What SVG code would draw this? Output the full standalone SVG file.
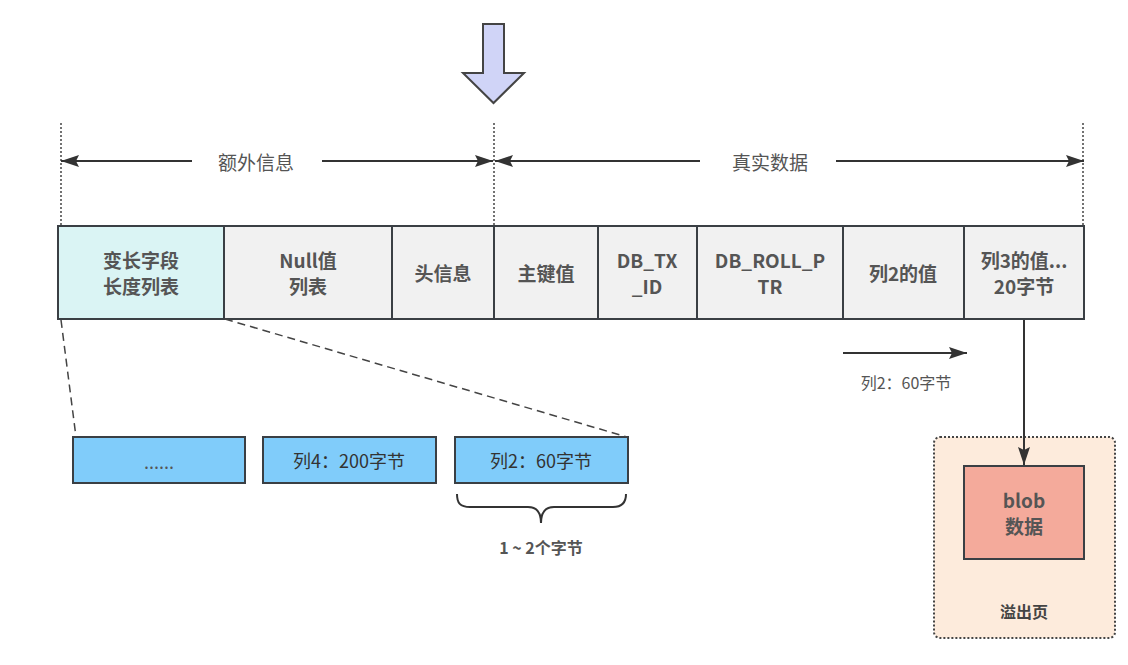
<svg xmlns="http://www.w3.org/2000/svg" width="1128" height="665" viewBox="0 0 1128 665">
<defs>
<style>
text{font-family:"Noto Sans CJK SC","Noto Sans",sans-serif;fill:#555;text-anchor:middle;dominant-baseline:central}
.b{font-weight:bold;font-size:19px}
.lbl{font-size:19px}
.cell{stroke:#3a3f44;stroke-width:2}
.gray{fill:#f1f1f1}
.blue{fill:#80ccfa}
.dot{stroke:#444;stroke-width:1.5;stroke-dasharray:2 2;fill:none}
.ln{stroke:#333;stroke-width:2;fill:none}
.dash{stroke:#444;stroke-width:1.5;stroke-dasharray:8 5;fill:none}
</style>
<marker id="ah2" viewBox="0 0 18 12" refX="18" refY="6" markerWidth="18" markerHeight="12" markerUnits="userSpaceOnUse" orient="auto-start-reverse">
<path d="M0,0 L18,6 L0,12 L3,6 z" fill="#333"/>
</marker>
</defs>
<rect width="1128" height="665" fill="#fff"/>

<g id="top-arrow">
<path d="M483,24 L504,24 L504,73 L524,73 L493.5,103 L463,73 L483,73 Z" fill="#d0d4f7" stroke="#444" stroke-width="2" stroke-linejoin="miter"/>
</g>

<g id="guides">
<line class="dot" x1="61" y1="123" x2="61" y2="225"/>
<line class="dot" x1="494" y1="123" x2="494" y2="225"/>
<line class="dot" x1="1083" y1="123" x2="1083" y2="225"/>
</g>

<g id="labels">
<text class="lbl" x="256" y="161">额外信息</text>
<text class="lbl" x="770" y="161">真实数据</text>
<text x="906" y="382" style="font-size:16px">列2：60字节</text>
<text x="541" y="547" style="font-size:16px;font-weight:bold">1 ~ 2个字节</text>
</g>

<g id="n-varlen">
<rect class="cell" x="58" y="226" width="166" height="93" fill="#daf4f4"/>
<text class="b" x="141" y="259">变长字段</text>
<text class="b" x="141" y="285">长度列表</text>
</g>
<g id="n-null">
<rect class="cell gray" x="224" y="226" width="168" height="93"/>
<text class="b" x="308" y="259">Null值</text>
<text class="b" x="308" y="285">列表</text>
</g>
<g id="n-head">
<rect class="cell gray" x="392" y="226" width="102" height="93"/>
<text class="b" x="443" y="272">头信息</text>
</g>
<g id="n-pk">
<rect class="cell gray" x="494" y="226" width="104" height="93"/>
<text class="b" x="546" y="272">主键值</text>
</g>
<g id="n-txid">
<rect class="cell gray" x="598" y="226" width="99" height="93"/>
<text class="b" x="647" y="259">DB_TX</text>
<text class="b" x="647" y="285">_ID</text>
</g>
<g id="n-roll">
<rect class="cell gray" x="697" y="226" width="146" height="93"/>
<text class="b" x="770" y="259">DB_ROLL_P</text>
<text class="b" x="770" y="285">TR</text>
</g>
<g id="n-col2">
<rect class="cell gray" x="843" y="226" width="121" height="93"/>
<text class="b" x="903" y="272">列2的值</text>
</g>
<g id="n-col3">
<rect class="cell gray" x="964" y="226" width="120" height="93"/>
<text class="b" x="1024" y="259">列3的值...</text>
<text class="b" x="1024" y="285">20字节</text>
</g>

<g id="n-dots">
<rect class="cell blue" x="73" y="437" width="172" height="46"/>
<text x="159" y="461" style="font-size:18px">......</text>
</g>
<g id="n-col4len">
<rect class="cell blue" x="263" y="437" width="173" height="46"/>
<text x="349" y="460" style="font-size:18px;fill:#333">列4：200字节</text>
</g>
<g id="n-col2len">
<rect class="cell blue" x="455" y="437" width="173" height="46"/>
<text x="541" y="460" style="font-size:18px;fill:#333">列2：60字节</text>
</g>

<g id="n-overflow">
<rect x="934" y="437" width="181" height="201" rx="6" fill="#fdebdc" stroke="#444" stroke-width="2" stroke-dasharray="2 2"/>
<text x="1024" y="611" style="font-size:16px;font-weight:bold;fill:#444">溢出页</text>
</g>
<g id="n-blob">
<rect class="cell" x="964" y="466" width="120" height="93" fill="#f4aa9b"/>
<text class="b" x="1024" y="499">blob</text>
<text class="b" x="1024" y="525">数据</text>
</g>

<g id="connectors">
<line class="ln" x1="192" y1="161" x2="61" y2="161" marker-end="url(#ah2)"/>
<line class="ln" x1="322" y1="161" x2="493" y2="161" marker-end="url(#ah2)"/>
<line class="ln" x1="700" y1="161" x2="495" y2="161" marker-end="url(#ah2)"/>
<line class="ln" x1="836" y1="161" x2="1084" y2="161" marker-end="url(#ah2)"/>
<line class="dash" x1="61" y1="320" x2="76" y2="437"/>
<line class="dash" x1="225" y1="319" x2="627" y2="437"/>
<line class="ln" x1="843" y1="353" x2="967" y2="353" marker-end="url(#ah2)"/>
<line class="ln" x1="1024" y1="320" x2="1024" y2="465" marker-end="url(#ah2)"/>
<path class="ln" d="M457,494 C457,503 460,507 470,507 L528,507 C537,507 541,512 541,523 C541,512 545,507 554,507 L613,507 C622,507 626,503 626,494" stroke-width="1.8"/>
</g>
</svg>
